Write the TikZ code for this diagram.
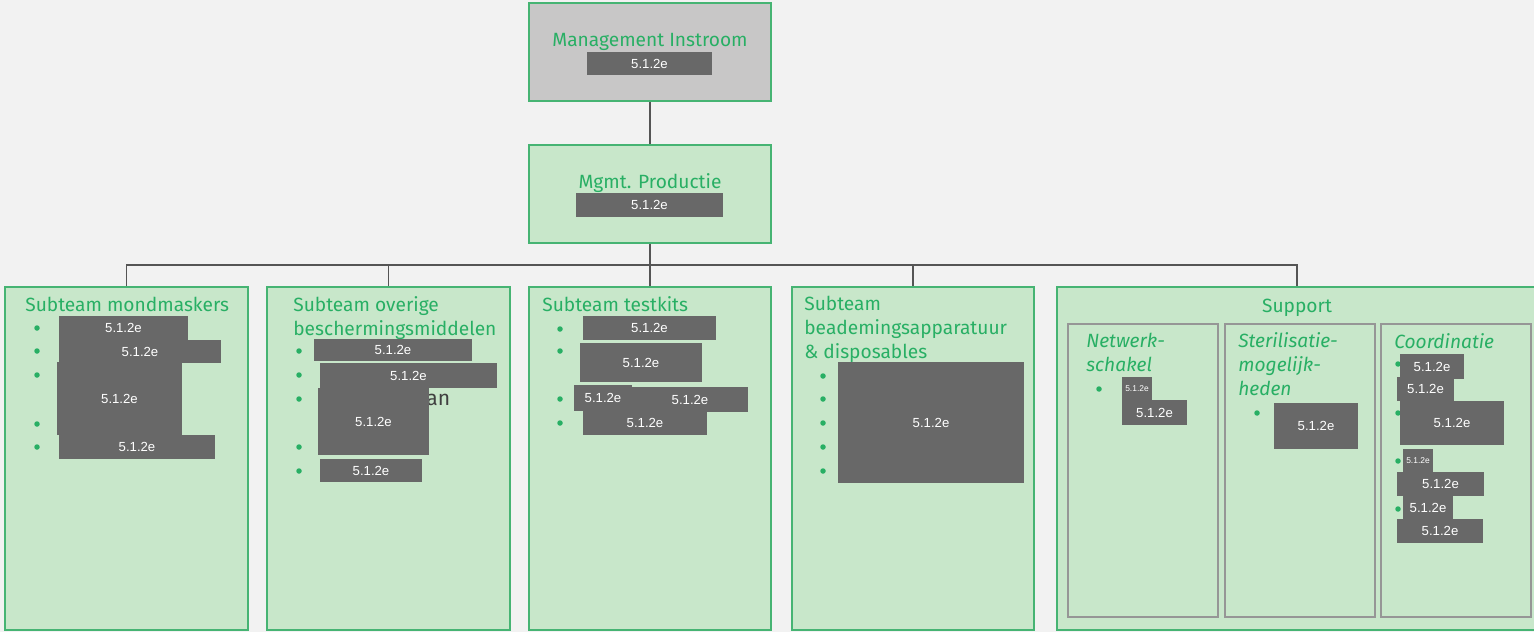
\documentclass[tikz,border=0pt]{standalone}
\usepackage{fontspec}
\setmainfont{Fira Sans}
\newfontfamily\rdfamily{Liberation Sans}
\usetikzlibrary{fit}

\definecolor{bgcol}{RGB}{242,242,242}
\definecolor{boxfill}{RGB}{200,231,202}
\definecolor{boxline}{RGB}{70,180,115}
\definecolor{greytop}{RGB}{200,199,199}
\definecolor{ttlgreen}{RGB}{40,175,100}
\definecolor{redgray}{RGB}{104,104,104}
\definecolor{linkgray}{RGB}{85,85,85}
\definecolor{subline}{RGB}{150,150,150}

\newcommand{\ttlfont}{\fontsize{10.9}{13.6}\selectfont}
\newcommand{\rdfont}{\rdfamily\fontsize{7.5}{8}\selectfont}
\newcommand{\rdsmall}{\rdfamily\fontsize{4.8}{5}\selectfont}

\begin{document}
\begin{tikzpicture}[x=0.02cm, y=-0.02cm,
    unit/.style = {draw=boxline, fill=boxfill, line width=1.1pt, inner sep=0pt},
    sub/.style = {draw=subline, fill=boxfill, line width=0.9pt, inner sep=0pt},
    ttl/.style = {text=ttlgreen, font=\ttlfont, anchor=base west, align=left, inner sep=0pt},
    red/.style = {fill=redgray, inner sep=0pt, label={[text=white, font=\rdfont, inner sep=0pt]center:5.1.2e}},
    redsm/.style = {fill=redgray, inner sep=0pt, label={[text=white, font=\rdsmall, inner sep=0pt]center:5.1.2e}},
    dot/.style = {circle, fill=ttlgreen, minimum size=0.11cm, inner sep=0pt},
    link/.style = {draw=linkgray, line width=0.8pt}]

    \fill[bgcol] (0,0) rectangle (1534,632);
    \useasboundingbox (0,0) rectangle (1534,632);

    % top of the chart
    \node [unit, fill=greytop, fit={(529,3) (771,101)}] (instr) {};
    \node [ttl, anchor=base] (instrt) at (650,46) {Management Instroom};
    \node [red, fit={(587,52) (712,75)}] (instrr) {};

    \node [unit, fit={(529,145) (771,243)}] (prod) {};
    \node [ttl, anchor=base] (prodt) at (650,188) {Mgmt. Productie};
    \node [red, fit={(576,193) (723,217)}] (prodr) {};

    % subteams
    \node [unit, fit={(5,287) (248,630)}] (mond) {};
    \node [unit, fit={(267,287) (510,630)}] (overig) {};
    \node [unit, fit={(529,287) (771,630)}] (test) {};
    \node [unit, fit={(792,287) (1034,630)}] (bead) {};
    \node [unit, fit={(1057,287) (1537,630)}] (supp) {};

    \coordinate (bus) at (650,265);
    \draw [link] (instr) -- (prod);
    \draw [link] (prod) -- (bus);
    \draw [link] (bus) -| (mond);
    \draw [link] (bus) -| (overig);
    \draw [link] (bus) -| (test);
    \draw [link] (bus) -| (bead);
    \draw [link] (bus) -| (supp);

    % mondmaskers
    \node [ttl] (mondt) at (25,311) {Subteam mondmaskers};
    \foreach \y in {328,351,375,424,447}
        \node [dot] (mondb\y) at (37,\y) {};
    \node [red, fit={(59,316) (188,340)}] (mond1) {};
    \node [red, fit={(59,340) (221,363)}] (mond2) {};
    \node [red, fit={(57,362) (182,435)}] (mond3) {};
    \node [red, fit={(59,435) (215,459)}] (mond4) {};

    % overige beschermingsmiddelen (base = last line)
    \node [ttl] (overigt) at (293,335) {Subteam overige\\beschermingsmiddelen};
    \foreach \y in {351,375,399,447,471}
        \node [dot] (overigb\y) at (299,\y) {};
    \node [font=\fontsize{12}{14}\selectfont, text=black!75, anchor=base west, inner sep=0pt] (overiga) at (426,405) {an};
    \node [red, fit={(314,339) (472,361)}] (overig1) {};
    \node [red, fit={(320,363) (497,388)}] (overig2) {};
    \node [red, fit={(318,388) (429,455)}] (overig3) {};
    \node [red, fit={(320,459) (422,482)}] (overig4) {};

    % testkits
    \node [ttl] (testt) at (542,311) {Subteam testkits};
    \foreach \y in {329,351,399,423}
        \node [dot] (testb\y) at (560,\y) {};
    \node [red, fit={(583,316) (716,340)}] (test1) {};
    \node [red, fit={(580,343) (702,382)}] (test2) {};
    \node [red, fit={(632,387) (748,412)}] (test4) {};
    \node [red, fit={(574,385) (632,411)}] (test3) {};
    \node [red, fit={(583,411) (707,435)}] (test5) {};

    % beademing
    \node [ttl] (beadt) at (804,358) {Subteam\\beademingsapparatuur\\\& disposables};
    \foreach \y in {376,399,423,447,471}
        \node [dot] (beadb\y) at (823,\y) {};
    \node [red, fit={(838,362) (1024,483)}] (bead1) {};

    % support
    \node [ttl, anchor=base] (suppt) at (1297,312) {Support};
    \node [sub, fit={(1068,324) (1218,617)}] (netw) {};
    \node [sub, fit={(1225,324) (1375,617)}] (ster) {};
    \node [sub, fit={(1381,324) (1531,617)}] (coord) {};

    \node [ttl, font=\ttlfont\itshape] (netwt) at (1086,371) {Netwerk-\\schakel};
    \node [dot] (netwb) at (1099,389) {};
    \node [redsm, fit={(1122,377) (1152,401)}] (netw1) {};
    \node [red, fit={(1122,400) (1187,425)}] (netw2) {};

    \node [ttl, font=\ttlfont\itshape] (stert) at (1238,395) {Sterilisatie-\\mogelijk-\\heden};
    \node [dot] (sterb) at (1257,413) {};
    \node [red, fit={(1274,403) (1358,449)}] (ster1) {};

    \node [ttl, font=\ttlfont\itshape] (coordt) at (1394,348) {Coordinatie};
    \foreach \y in {364,413,461,509}
        \node [dot] (coordb\y) at (1398,\y) {};
    \node [red, fit={(1400,354) (1464,379)}] (coord1) {};
    \node [red, fit={(1397,377) (1454,401)}] (coord2) {};
    \node [red, fit={(1400,401) (1504,445)}] (coord3) {};
    \node [redsm, fit={(1403,449) (1433,472)}] (coord4) {};
    \node [red, fit={(1397,472) (1484,496)}] (coord5) {};
    \node [red, fit={(1403,496) (1453,519)}] (coord6) {};
    \node [red, fit={(1397,519) (1483,543)}] (coord7) {};

\end{tikzpicture}
\end{document}
